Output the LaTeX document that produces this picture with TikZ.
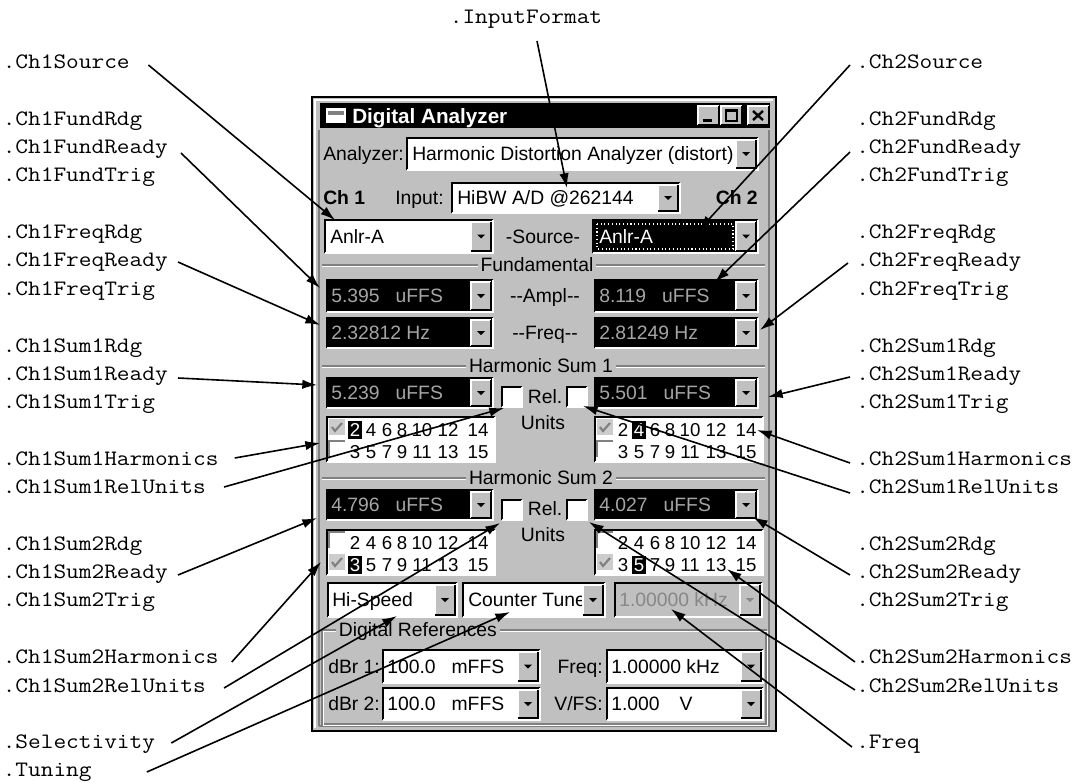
\documentclass[tikz,border=0pt]{standalone}
\usepackage{fontspec}
\usepackage{tikz}
\usetikzlibrary{arrows.meta, calc, positioning}
\newfontfamily\winfont{Liberation Sans}
\newfontfamily\codefont[FakeStretch=1.12]{Latin Modern Mono}
\definecolor{WinGray}{RGB}{192,192,192}
\definecolor{WinShadow}{RGB}{128,128,128}
\definecolor{ReadoutText}{RGB}{165,165,165}
\definecolor{DisabledText}{RGB}{135,135,135}
\tikzset{
  callout/.style={-{Latex[length=11pt, width=7pt]}, line width=1.2pt, black},
  codelabel/.style={font=\codefont\fontsize{16.5}{19}\selectfont, inner sep=0pt, text height=10pt, text depth=0pt},
  wintext/.style={font=\winfont\fontsize{14.5}{17}\selectfont, inner sep=0pt, text height=10.4pt, text depth=0pt},
  winbold/.style={wintext, font=\winfont\bfseries\fontsize{14.5}{17}\selectfont},
  titletext/.style={font=\winfont\bfseries\fontsize{15.5}{18}\selectfont, text=white, inner sep=0pt, text height=11pt, text depth=0pt},
  readout/.style={wintext, text=ReadoutText},
  digit/.style={wintext, font=\winfont\fontsize{14}{16}\selectfont},
  grouptitle/.style={wintext, fill=WinGray, inner xsep=2pt, inner ysep=1pt}
}
% sunken field: x1, y1, x2, y2, fill
\newcommand{\sunkbox}[5]{%
  \fill[#5] (#1,#2) rectangle (#3,#4);
  \draw[black, line width=1.5pt] (#1,#4) -- (#1,#2) -- (#3,#2);
  \draw[white, line width=1.5pt] (#1,#4) -- (#3,#4) -- (#3,#2);
}
% raised button: x1, y1, x2, y2
\newcommand{\raisebtn}[4]{%
  \fill[WinGray] (#1,#2) rectangle (#3,#4);
  \draw[white, line width=1pt] (#1,#4) -- (#1,#2) -- (#3,#2);
  \draw[black, line width=1pt] (#1,#4) -- (#3,#4) -- (#3,#2);
}
% drop-down button with arrow
\newcommand{\dropbtn}[5][black]{%
  \raisebtn{#2}{#3}{#4}{#5}
  \fill[#1] ($(#2,#3)!0.5!(#4,#5)$) +(-4,-2) -- +(4,-2) -- +(0,2) -- cycle;
}
\newcommand{\combo}[5]{\sunkbox{#1}{#2}{#3}{#4}{#5}\dropbtn{#3-22}{#2+2}{#3-2}{#4-2}}
% etched separator: x1, x2, y
\newcommand{\etch}[3]{%
  \draw[WinShadow, line width=1pt] (#1,#3) -- (#2,#3);
  \draw[white, line width=1pt] (#1,#3+1.5) -- (#2,#3+1.5);
}
\newcommand{\greycheck}[2]{%
  \fill[gray!40] (#1,#2) rectangle (#1+16,#2+16);
  \draw[WinShadow, line width=1.6pt] (#1+3,#2+8) -- (#1+6,#2+12) -- (#1+13,#2+4);
}
\newcommand{\emptycheck}[2]{%
  \draw[WinShadow, line width=1pt] (#1,#2+16) -- (#1,#2) -- (#1+16,#2);
}

\begin{document}
\begin{tikzpicture}[x=0.75pt, y=-0.75pt]
  \useasboundingbox (0,0) rectangle (1083,782);
  \fill[white] (0,0) rectangle (1083,782);

  % Window frame
  \fill[WinGray] (312,97) rectangle (776,731);
  \draw[black, line width=1.5pt] (312,97) rectangle (776,731);
  \draw[white, line width=1pt] (315,728) -- (315,100) -- (773,100);
  \draw[WinShadow, line width=1pt] (319,726) -- (769,726) -- (769,130);
  \draw[WinShadow, line width=1pt] (319,726) -- (319,130);

  % Title bar
  \fill[black] (320,103) rectangle (770,128);
  \fill[white] (326,108) rectangle (346,123);
  \fill[WinShadow] (328,111) rectangle (344,115);
  \node[titletext, anchor=west] (title) at (352,116) {Digital Analyzer};
  \foreach \bx in {698,721,748} {
      \raisebtn{\bx}{106}{\bx+21}{125}
    }
  \fill[black] (703,118.5) rectangle (712,121.5);
  \draw[black, line width=1pt] (726,110) rectangle (737,121);
  \draw[black, line width=2pt] (726,110.5) -- (737,110.5);
  \draw[black, line width=1.8pt] (753,111) -- (763,120) (763,111) -- (753,120);

  % Analyzer and input
  \node[wintext, anchor=west] (anlzLbl) at (323,154) {Analyzer:};
  \combo{407}{138}{758}{170}{white}
  \node[wintext, anchor=west] (anlzSel) at (412,154) {Harmonic Distortion Analyzer (distort)};
  \node[winbold, anchor=west] (ch1) at (323,198) {Ch 1};
  \node[wintext, anchor=west] (inputLbl) at (395,198) {Input:};
  \combo{452}{183}{680}{213}{white}
  \node[wintext, anchor=west] (inputSel) at (457,198) {HiBW A/D @262144};
  \node[winbold, anchor=east] (ch2) at (758,198) {Ch 2};

  % Source
  \combo{325}{220}{493}{253}{white}
  \node[wintext, anchor=west] (src1) at (330,237) {Anlr-A};
  \node[wintext] (srcLbl) at (543,237) {-Source-};
  \combo{593}{220}{758}{253}{black}
  \draw[white, dotted, line width=0.8pt] (597,224) rectangle (733,249);
  \node[wintext, text=white, anchor=west] (src2) at (599,237) {Anlr-A};

  % Fundamental
  \etch{322}{765}{265}
  \node[grouptitle] (fundTitle) at (537,265) {Fundamental};
  \combo{327}{280}{493}{312}{black}
  \node[readout, anchor=west] (ampl1) at (331,296) {5.395\hspace{12pt}uFFS};
  \node[wintext] (amplLbl) at (545,296) {-{}-Ampl-{}-};
  \combo{595}{280}{758}{312}{black}
  \node[readout, anchor=west] (ampl2) at (599,296) {8.119\hspace{12pt}uFFS};
  \combo{327}{318}{493}{348}{black}
  \node[readout, anchor=west] (freq1) at (331,333) {2.32812 Hz};
  \node[wintext] (freqLbl) at (545,333) {-{}-Freq-{}-};
  \combo{595}{318}{758}{348}{black}
  \node[readout, anchor=west] (freq2) at (599,333) {2.81249 Hz};

  % Harmonic Sum 1
  \etch{322}{765}{366}
  \node[grouptitle] (sum1Title) at (541,366) {Harmonic Sum 1};
  \combo{327}{378}{493}{408}{black}
  \node[readout, anchor=west] (sum1a) at (331,393) {5.239\hspace{12pt}uFFS};
  \combo{595}{378}{758}{408}{black}
  \node[readout, anchor=west] (sum1b) at (599,393) {5.501\hspace{12pt}uFFS};
  \sunkbox{502}{387}{522}{407}{white}
  \sunkbox{567}{387}{587}{407}{white}
  \node[wintext] (rel1) at (545,397) {Rel.};
  \node[wintext] (units1) at (543,423) {Units};

  % Harmonic Sum 2
  \etch{322}{765}{478}
  \node[grouptitle] (sum2Title) at (541,478) {Harmonic Sum 2};
  \combo{327}{490}{493}{520}{black}
  \node[readout, anchor=west] (sum2a) at (331,505) {4.796\hspace{12pt}uFFS};
  \combo{595}{490}{758}{520}{black}
  \node[readout, anchor=west] (sum2b) at (599,505) {4.027\hspace{12pt}uFFS};
  \sunkbox{502}{500}{522}{520}{white}
  \sunkbox{567}{500}{587}{520}{white}
  \node[wintext] (rel2) at (545,509) {Rel.};
  \node[wintext] (units2) at (543,535) {Units};

  % Harmonic selectors
  \foreach \ox/\oy in {0/417, 268/417, 0/530, 268/530} {
      \sunkbox{327+\ox}{\oy}{495+\ox}{\oy+45}{white}
      \foreach \dx/\ev/\od in {355/2/3, 371/4/5, 387/6/7, 402/8/9, 422/10/11, 448/12/13, 478/14/15} {
          \node[digit] (h\ev-\ox-\oy) at (\dx+\ox,\oy+13) {\ev};
          \node[digit] (h\od-\ox-\oy) at (\dx+\ox,\oy+35) {\od};
        }
    }
  \foreach \ox in {0,268} {
      \greycheck{329+\ox}{419}
      \emptycheck{329+\ox}{441}
      \emptycheck{329+\ox}{532}
      \greycheck{329+\ox}{554}
    }
  \fill[black] (348,421) rectangle (362,439);
  \node[digit, text=white] (hiA) at (355,430) {2};
  \fill[black] (632,421) rectangle (646,439);
  \node[digit, text=white] (hiB) at (639,430) {4};
  \fill[black] (348,556) rectangle (362,574);
  \node[digit, text=white] (hiC) at (355,565) {3};
  \fill[black] (632,556) rectangle (646,574);
  \node[digit, text=white] (hiD) at (639,565) {5};

  % Selectivity, tuning, frequency
  \combo{328}{583}{457}{617}{white}
  \node[wintext, anchor=west] (selSel) at (332,600) {Hi-Speed};
  \sunkbox{463}{583}{605}{617}{white}
  \node[wintext, anchor=west] (tuneSel) at (468,600) {Counter Tune};
  \dropbtn{583}{585}{603}{615}
  \sunkbox{615}{583}{762}{617}{WinGray}
  \node[wintext, text=DisabledText, anchor=west] (tuneFreq) at (619,600) {1.00000 kHz};
  \dropbtn[DisabledText]{740}{585}{760}{615}

  % Digital References
  \draw[WinShadow, line width=1pt] (322,630) rectangle (766,724);
  \draw[white, line width=1pt] (323.5,631.5) rectangle (767.5,725.5);
  \node[grouptitle, anchor=west] (digRef) at (336,630) {Digital References};
  \node[wintext, anchor=west] (dbr1Lbl) at (328,667) {dBr 1:};
  \combo{383}{650}{540}{683}{white}
  \node[wintext, anchor=west] (dbr1) at (387,667) {100.0\hspace{12pt}mFFS};
  \node[wintext, anchor=east] (refFreqLbl) at (603,667) {Freq:};
  \combo{607}{650}{763}{683}{white}
  \node[wintext, anchor=west] (refFreq) at (611,667) {1.00000 kHz};
  \node[wintext, anchor=west] (dbr2Lbl) at (328,704) {dBr 2:};
  \combo{383}{688}{540}{720}{white}
  \node[wintext, anchor=west] (dbr2) at (387,704) {100.0\hspace{12pt}mFFS};
  \node[wintext, anchor=east] (vfsLbl) at (603,704) {V/FS:};
  \combo{607}{688}{763}{720}{white}
  \node[wintext, anchor=west] (vfs) at (611,704) {1.000\hspace{15pt}V};

  % Property names
  \node[codelabel] (InputFormat) at (526,17) {.InputFormat};
  \foreach \name/\yy in {Ch1Source/62, Ch1FundRdg/119, Ch1FundReady/147, Ch1FundTrig/175,
      Ch1FreqRdg/232, Ch1FreqReady/260, Ch1FreqTrig/289, Ch1Sum1Rdg/346, Ch1Sum1Ready/374,
      Ch1Sum1Trig/402, Ch1Sum1Harmonics/459, Ch1Sum1RelUnits/487, Ch1Sum2Rdg/544,
      Ch1Sum2Ready/572, Ch1Sum2Trig/600, Ch1Sum2Harmonics/657, Ch1Sum2RelUnits/686,
      Selectivity/742, Tuning/770} {
      \node[codelabel, anchor=west] (\name) at (2.5,\yy) {.\name};
    }
  \foreach \name/\yy in {Ch2Source/62, Ch2FundRdg/119, Ch2FundReady/147, Ch2FundTrig/175,
      Ch2FreqRdg/232, Ch2FreqReady/260, Ch2FreqTrig/289, Ch2Sum1Rdg/346, Ch2Sum1Ready/374,
      Ch2Sum1Trig/402, Ch2Sum1Harmonics/459, Ch2Sum1RelUnits/487, Ch2Sum2Rdg/544,
      Ch2Sum2Ready/572, Ch2Sum2Trig/600, Ch2Sum2Harmonics/657, Ch2Sum2RelUnits/686,
      Freq/742} {
      \node[codelabel, anchor=west] (\name) at (856,\yy) {.\name};
    }

  % Arrow targets on the panel
  \coordinate (tInputFormat) at (567,188);
  \coordinate (tCh1Source) at (335,220);
  \coordinate (tCh1Fund) at (320,288);
  \coordinate (tCh1Freq) at (320,325);
  \coordinate (tCh1Sum1) at (317,385);
  \coordinate (tCh1Sum1Harm) at (320,443);
  \coordinate (tCh1Sum1Rel) at (504,408);
  \coordinate (tCh1Sum2) at (317,518);
  \coordinate (tCh1Sum2Harm) at (321,562);
  \coordinate (tCh1Sum2Rel) at (500,523);
  \coordinate (tSelect) at (397,616);
  \coordinate (tTuning) at (510,612);
  \coordinate (tCh2Source) at (699,230);
  \coordinate (tCh2Fund) at (715,282);
  \coordinate (tCh2Freq) at (760,330);
  \coordinate (tCh2Sum1) at (768,397);
  \coordinate (tCh2Sum1Harm) at (757,430);
  \coordinate (tCh2Sum1Rel) at (583,406);
  \coordinate (tCh2Sum2) at (753,517);
  \coordinate (tCh2Sum2Harm) at (727,569);
  \coordinate (tCh2Sum2Rel) at (589,522);
  \coordinate (tFreq) at (671,609);

  % Callout arrows
  \draw[callout] ($(InputFormat.south)+(11,17)$) -- (tInputFormat);
  \draw[callout] ($(Ch1Source.east)+(18.5,3)$) -- (tCh1Source);
  \draw[callout] ($(Ch1FundReady.east)+(13,6)$) -- (tCh1Fund);
  \draw[callout] ($(Ch1FreqReady.east)+(10,2)$) -- (tCh1Freq);
  \draw[callout] ($(Ch1Sum1Ready.east)+(10,4)$) -- (tCh1Sum1);
  \draw[callout] ($(Ch1Sum1Harmonics.east)+(16,-1)$) -- (tCh1Sum1Harm);
  \draw[callout] ($(Ch1Sum1RelUnits.east)+(18,0)$) -- (tCh1Sum1Rel);
  \draw[callout] ($(Ch1Sum2Ready.east)+(10,3)$) -- (tCh1Sum2);
  \draw[callout] ($(Ch1Sum2Harmonics.east)+(13,5)$) -- (tCh1Sum2Harm);
  \draw[callout] ($(Ch1Sum2RelUnits.east)+(18,2)$) -- (tCh1Sum2Rel);
  \draw[callout] ($(Selectivity.east)+(16,1)$) -- (tSelect);
  \draw[callout] ($(Tuning.east)+(55,2)$) -- (tTuning);
  \draw[callout] ($(Ch2Source.west)+(-6,3)$) -- (tCh2Source);
  \draw[callout] ($(Ch2FundReady.west)+(-6,5)$) -- (tCh2Fund);
  \draw[callout] ($(Ch2FreqReady.west)+(-8,3)$) -- (tCh2Freq);
  \draw[callout] ($(Ch2Sum1Ready.west)+(-6,3)$) -- (tCh2Sum1);
  \draw[callout] ($(Ch2Sum1Harmonics.west)+(-6,4)$) -- (tCh2Sum1Harm);
  \draw[callout] ($(Ch2Sum1RelUnits.west)+(-6,6)$) -- (tCh2Sum1Rel);
  \draw[callout] ($(Ch2Sum2Ready.west)+(-6,3)$) -- (tCh2Sum2);
  \draw[callout] ($(Ch2Sum2Harmonics.west)+(-1,5)$) -- (tCh2Sum2Harm);
  \draw[callout] ($(Ch2Sum2RelUnits.west)+(-1,4)$) -- (tCh2Sum2Rel);
  \draw[callout] ($(Freq.west)+(-4,5)$) -- (tFreq);
\end{tikzpicture}
\end{document}
